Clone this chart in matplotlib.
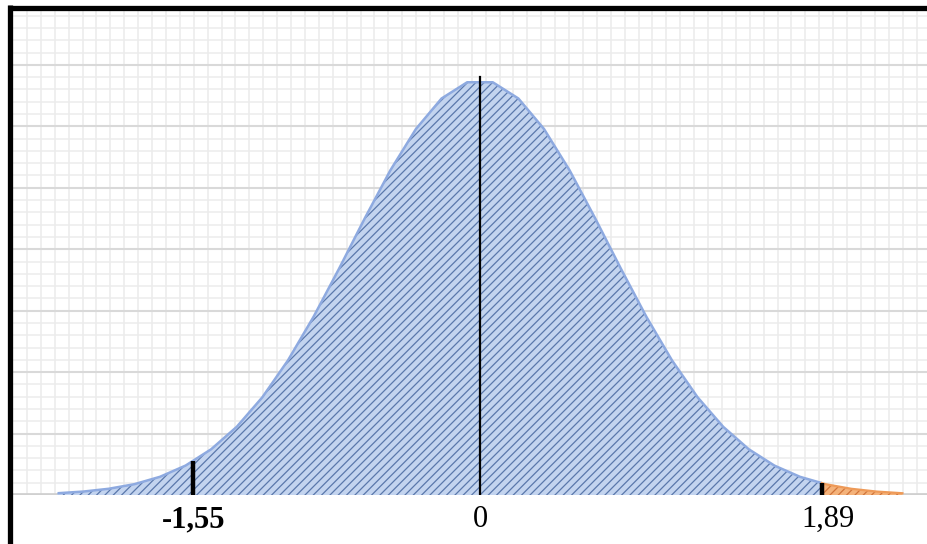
import numpy as np
import matplotlib
matplotlib.use("Agg")
import matplotlib.pyplot as plt
from matplotlib.lines import Line2D

# ---- data ----
z_values = [-3.3, -3.1, -2.9, -2.7, -2.5, -2.3, -2.1, -1.9, -1.7, -1.5, -1.3, -1.1,
            -0.9, -0.7, -0.5, -0.3, -0.1, 0.1, 0.3, 0.5, 0.7, 0.9, 1.1, 1.3,
            1.5, 1.7, 1.9, 2.1, 2.3, 2.5, 2.7, 2.9, 3.1, 3.3]
density = [0.0017, 0.0033, 0.0060, 0.0104, 0.0175, 0.0283, 0.0440, 0.0656, 0.0940,
           0.1295, 0.1714, 0.2179, 0.2661, 0.3123, 0.3521, 0.3814, 0.3970, 0.3970,
           0.3814, 0.3521, 0.3123, 0.2661, 0.2179, 0.1714, 0.1295, 0.0940, 0.0656,
           0.0440, 0.0283, 0.0175, 0.0104, 0.0060, 0.0033, 0.0017]
marker_pos = [-2.24, 0.0, 2.67]
marker_labels = ["-1,55", "0", "1,89"]
orange_start = 2.67

# ---- style ----
plt.rcParams["hatch.linewidth"] = 0.9
W, H = 928, 544
fig = plt.figure(figsize=(W / 100, H / 100), dpi=100)
ax_left_px, ax_right_px, ax_top_px, ax_bottom_px = 13, 928, 10, 495
ax = fig.add_axes([ax_left_px / W, 1 - ax_bottom_px / H,
                   (ax_right_px - ax_left_px) / W, (ax_bottom_px - ax_top_px) / H])
xlim = (-3.648, 3.5)
ylim = (0, 0.4665)
ax.set_xlim(*xlim)
ax.set_ylim(*ylim)
for s in ax.spines.values():
    s.set_visible(False)
ax.set_xticks([])
ax.set_yticks([])

# grid
vstep = 0.1086
xv = xlim[0] + vstep
while xv < xlim[1]:
    ax.axvline(xv, color="#ebebeb", lw=1.1, zorder=0)
    xv += vstep
major = 0.0591
minor = major / 5
yv = minor
k = 1
while yv < ylim[1]:
    if k % 5 == 0:
        ax.axhline(yv, color="#d9d9d9", lw=1.5, zorder=0.5)
    else:
        ax.axhline(yv, color="#ececec", lw=1.1, zorder=0.4)
    yv += minor
    k += 1
ax.axhline(0.0008, color="#d0d0d0", lw=2.0, zorder=0.6)

z = np.array(z_values)
d = np.array(density)
split_d = np.interp(orange_start, z, d)
mask_b = z < orange_start
zb = np.concatenate([z[mask_b], [orange_start]])
db = np.concatenate([d[mask_b], [split_d]])
zo = np.concatenate([[orange_start], z[~mask_b]])
do = np.concatenate([[split_d], d[~mask_b]])

# blue area
ax.fill_between(zb, 0, db, facecolor="#c3d4ef", edgecolor="none", zorder=2)
ax.fill_between(zb, 0, db, facecolor="none", edgecolor="#5a78ab", hatch="////",
                linewidth=0, zorder=2.1)
ax.plot(zb, db, color="#8eaae0", lw=1.8, zorder=2.2, solid_capstyle="butt")
# orange area
ax.fill_between(zo, 0, do, facecolor="#f4b27a", edgecolor="none", zorder=2)
ax.fill_between(zo, 0, do, facecolor="none", edgecolor="#d0743a", hatch="////",
                linewidth=0, zorder=2.1)
ax.plot(zo, do, color="#ee9a58", lw=1.6, zorder=2.2)

# marker lines
peak = max(density)
for pos in marker_pos:
    if pos == 0.0:
        ax.plot([pos, pos], [0, peak * 1.012], color="black", lw=1.6, zorder=3)
    else:
        top = np.interp(pos, z, d)
        ax.plot([pos, pos], [0, top], color="black", lw=3.2, zorder=3,
                solid_capstyle="butt")

# labels
for pos, lab in zip(marker_pos, marker_labels):
    bold = lab.startswith("-")
    ax.text(pos + (0.045 if lab == "1,89" else 0), -0.0235, lab,
            ha="center", va="center", fontsize=22,
            family="Liberation Serif", fontweight="bold" if bold else "normal",
            color="black", clip_on=False)

# outer black border (left and top)
fig.add_artist(Line2D([10.5 / W, 10.5 / W], [0, 1 - 5 / H], transform=fig.transFigure,
                      color="black", lw=3.8, solid_capstyle="butt"))
fig.add_artist(Line2D([8 / W, 1], [1 - 7.5 / H, 1 - 7.5 / H], transform=fig.transFigure,
                      color="black", lw=3.8, solid_capstyle="butt"))

fig.savefig("out.png", dpi=100)
